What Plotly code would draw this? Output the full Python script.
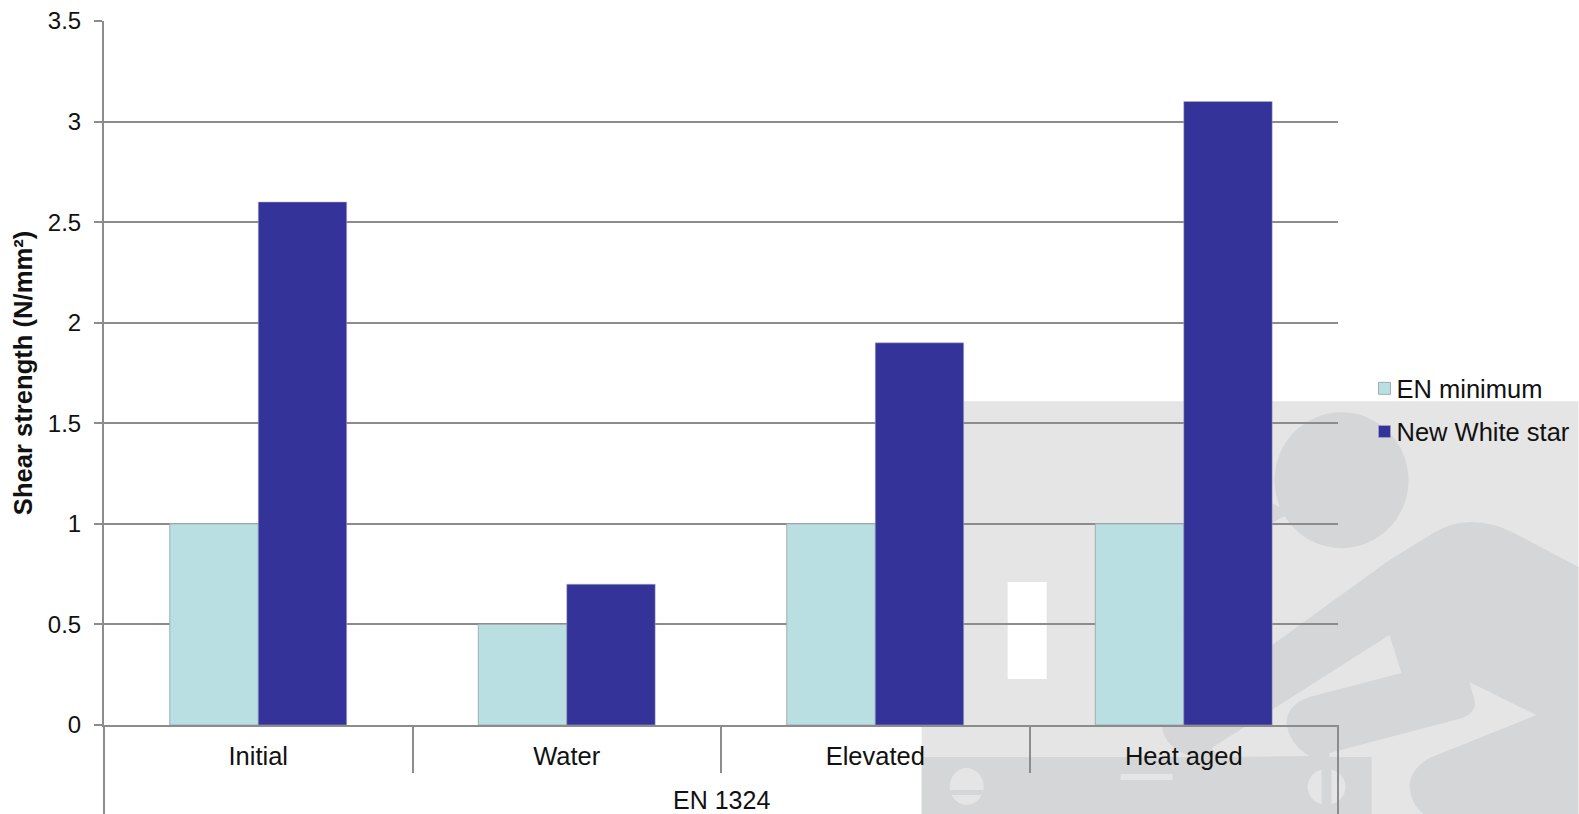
import plotly.graph_objects as go

group_label = "EN 1324"
categories = ["Initial", "Water", "Elevated", "Heat aged"]
en_minimum = [1, 0.5, 1, 1]
new_white_star = [2.6, 0.7, 1.9, 3.1]
y_ticks = [0, 0.5, 1, 1.5, 2, 2.5, 3, 3.5]
y_labels = ["0", "0.5", "1", "1.5", "2", "2.5", "3", "3.5"]

W, H = 1579, 814
L, R, T, B = 104, 1338.5, 20.5, 725
PW, PH = R - L, B - T
AXIS = "#8c8c8c"
LIGHT = "#e5e5e5"
DARK = "#d5d6d8"
FONT = "Liberation Sans"


def px(x):
    return (x - L) / PW


def py(y):
    return (B - y) / PH


def p(x, y):
    return f"{px(x):.5f},{py(y):.5f}"


def path(d, color):
    # d: list of (command, x, y, ...) in page pixels of the watermark picture
    out = ""
    for item in d:
        cmd, nums = item[0], item[1:]
        out += cmd + " ".join(p(nums[i], nums[i + 1]) for i in range(0, len(nums), 2)) + " "
    return dict(type="path", path=out + "Z", xref="paper", yref="paper", fillcolor=color,
                line_width=0, layer="below")


def rect(x0, y0, x1, y1, color):
    return dict(type="rect", xref="paper", yref="paper", x0=px(x0), x1=px(x1), y0=py(y0), y1=py(y1),
                fillcolor=color, line_width=0, layer="below")


def oval(x0, y0, x1, y1, color):
    return dict(type="circle", xref="paper", yref="paper", x0=px(x0), x1=px(x1), y0=py(y0), y1=py(y1),
                fillcolor=color, line_width=0, layer="below")


def vline(x, y0, y1):
    return dict(type="line", xref="paper", yref="paper", x0=px(x), x1=px(x), y0=py(y0), y1=py(y1),
                line=dict(color=AXIS, width=2), layer="above")


shapes = [
    rect(922, 401, W, H, LIGHT),
    oval(1275, 412, 1409, 548, DARK),
    path([("M", 1272, 503), ("L", 1292, 512), ("L", 1272, 523)], DARK),
    # body
    path([("M", 1162, 725), ("L", 1390, 560), ("L", 1437, 531), ("Q", 1472, 512, 1515, 533),
          ("L", 1579, 567), ("L", 1579, 814), ("L", 1372, 814), ("L", 1372, 757), ("L", 1195, 757),
          ("Q", 1165, 750, 1162, 725)], DARK),
    # gap between arm and forearm
    path([("M", 1390, 635), ("L", 1402, 673), ("L", 1310, 697), ("Q", 1287, 705, 1287, 723),
          ("Q", 1290, 745, 1310, 756), ("L", 1220, 757), ("L", 1212, 748)], LIGHT),
    # gap under forearm
    path([("M", 1470, 682), ("L", 1537, 715), ("L", 1430, 758), ("Q", 1410, 770, 1410, 787),
          ("Q", 1412, 805, 1424, 814), ("L", 1372, 814), ("L", 1372, 757), ("L", 1330, 757),
          ("L", 1330, 753), ("L", 1463, 718), ("Q", 1478, 712, 1475, 700)], LIGHT),
    rect(922, 757, 1372, H, DARK),
    oval(950, 768, 984, 805, LIGHT),
    rect(950, 790, 984, 795, DARK),
    rect(1121, 774, 1173, 780, LIGHT),
    oval(1308, 769, 1346, 805, LIGHT),
    rect(1322, 765, 1332, 810, DARK),
    rect(1008, 582, 1047, 679, "white"),
    vline(L, B, H),
    vline(R, B, H),
]

fig = go.Figure()
fig.add_bar(x=categories, y=en_minimum, name="EN minimum", legendgroup="a", marker_color="#b9dfe2",
            marker_line=dict(color="#a3adae", width=1))
fig.add_bar(x=categories, y=new_white_star, name="New White star", legendgroup="b", marker_color="#333399",
            marker_line=dict(color="#b5b5c8", width=0.5))

fig.update_layout(
    width=W, height=H, autosize=False,
    margin=dict(l=L, r=W - R, t=T, b=H - B, autoexpand=False),
    paper_bgcolor="white", plot_bgcolor="rgba(0,0,0,0)",
    barmode="group", bargap=0.4266, bargroupgap=0,
    font=dict(family=FONT, size=24, color="#111111"),
    shapes=shapes,
    annotations=[dict(text=group_label, xref="paper", yref="paper", x=0.5, y=py(800), xanchor="center",
                      yanchor="middle", showarrow=False, font=dict(size=25))],
    legend=dict(x=px(1357), xanchor="left", y=py(365), yanchor="top", tracegroupgap=7,
                bgcolor="rgba(0,0,0,0)", font=dict(size=25.5), itemclick=False, itemdoubleclick=False),
    showlegend=True,
    xaxis=dict(type="category", categoryorder="array", categoryarray=categories, showline=True,
               linecolor=AXIS, linewidth=2, ticks="outside", tickson="boundaries", tickcolor=AXIS,
               ticklen=46, tickwidth=2, ticklabelstandoff=7, showgrid=False, tickfont=dict(size=25.5)),
    yaxis=dict(range=[0, 3.5], tickmode="array", tickvals=y_ticks, ticktext=y_labels,
               showline=True, linecolor=AXIS, linewidth=2, ticks="outside", tickcolor=AXIS, ticklen=8,
               tickwidth=2, ticklabelstandoff=8, gridcolor=AXIS, gridwidth=1.5, zeroline=False,
               title=dict(text="<b>Shear strength (N/mm²)</b>", font=dict(size=25.6), standoff=8)),
)

script = """
document.body.style.margin = '0';
function moveSwatches() {
  document.querySelectorAll('.legend g.legendsymbols').forEach(function (g) {
    g.setAttribute('transform', 'translate(8,0)');
  });
}
moveSwatches();
setTimeout(moveSwatches, 50);
"""
fig.write_html("out.html", post_script=script, config=dict(displayModeBar=False))
